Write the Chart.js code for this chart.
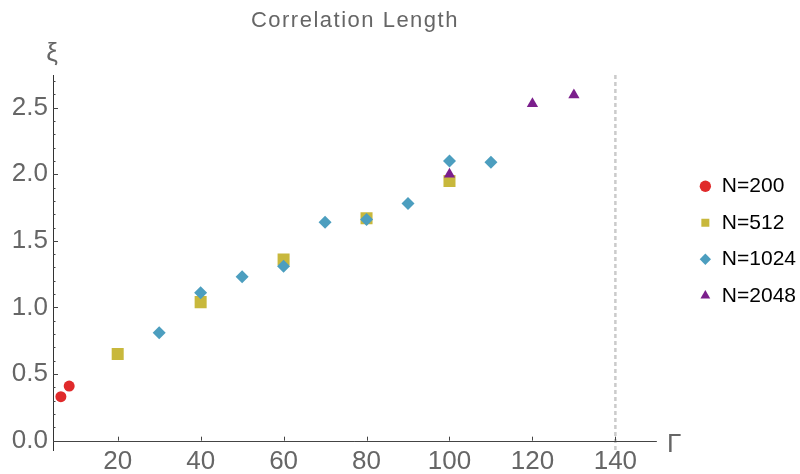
<!DOCTYPE html>
<html lang="en">
<head>
<meta charset="UTF-8">
<title>Correlation Length</title>
<script src="https://cdn.jsdelivr.net/npm/chart.js@4.4.0/dist/chart.umd.min.js"></script>
<style>
  html, body { margin: 0; padding: 0; background: #fff; }
  #wrap { width: 800px; height: 474px; }
</style>
</head>
<body>
<div id="wrap"><canvas id="canvas"></canvas></div>
<script>
// Data
const gamma200 = [6.3, 8.3];
const xi200 = [0.33, 0.41];
const gamma512 = [20, 40, 60, 80, 100];
const xi512 = [0.65, 1.04, 1.36, 1.67, 1.95];
const gamma1024 = [30, 40, 50, 60, 70, 80, 90, 100, 110];
const xi1024 = [0.81, 1.11, 1.23, 1.31, 1.64, 1.66, 1.78, 2.10, 2.09];
const gamma2048 = [100, 120, 130];
const xi2048 = [2.00, 2.53, 2.595];
const seriesNames = ['N=200', 'N=512', 'N=1024', 'N=2048'];
const xTicks = [20, 40, 60, 80, 100, 120, 140];
const yTicks = [0, 0.5, 1.0, 1.5, 2.0, 2.5];
const gammaMarker = 140;

const FONT = "'Liberation Sans', Arial, Helvetica, sans-serif";
const toPoints = (xs, ys) => xs.map((x, i) => ({ x: x, y: ys[i] }));

// Mathematica-style axes: x axis through y=0, inward tick marks, dashed marker, axis symbols
const mmaAxes = {
    id: 'mmaAxes',
    beforeDraw(chart) {
        // letter-spaced title
        const t = chart.titleBlock;
        if (t && !t._spaced) {
            const draw = t.draw.bind(t);
            t.draw = function (area) {
                chart.ctx.save();
                chart.ctx.letterSpacing = '1.5px';
                draw(area);
                chart.ctx.restore();
            };
            t._spaced = true;
        }
    },
    beforeDatasetsDraw(chart) {
        const { ctx, chartArea: a, scales: { x, y } } = chart;
        const y0 = y.getPixelForValue(0);
        ctx.save();
        // dashed vertical line
        const xm = x.getPixelForValue(gammaMarker);
        ctx.strokeStyle = '#cbcbcb';
        ctx.lineWidth = 2.5;
        ctx.setLineDash([4, 3]);
        ctx.beginPath();
        ctx.moveTo(xm, a.top);
        ctx.lineTo(xm, a.bottom);
        ctx.stroke();
        ctx.setLineDash([]);
        // x axis line
        ctx.strokeStyle = '#444';
        ctx.lineWidth = 1;
        ctx.beginPath();
        ctx.moveTo(a.left, Math.round(y0) + 0.5);
        ctx.lineTo(a.right, Math.round(y0) + 0.5);
        ctx.stroke();
        // x ticks
        ctx.beginPath();
        xTicks.forEach(v => {
            const px = Math.round(x.getPixelForValue(v)) + 0.5;
            ctx.moveTo(px, y0);
            ctx.lineTo(px, y0 - 4);
        });
        ctx.stroke();
        // y ticks, major and minor
        ctx.beginPath();
        for (let i = 0; i <= 27; i++) {
            const py = Math.round(y.getPixelForValue(i / 10)) + 0.5;
            const len = i % 5 === 0 ? 5 : 2.5;
            ctx.moveTo(a.left, py);
            ctx.lineTo(a.left + len, py);
        }
        ctx.stroke();
        ctx.restore();
    },
    afterDraw(chart) {
        const { ctx } = chart;
        ctx.save();
        ctx.fillStyle = '#666';
        ctx.font = '26px ' + FONT;
        ctx.textBaseline = 'alphabetic';
        ctx.textAlign = 'center';
        ctx.fillText('ξ', 52, 61);
        ctx.textAlign = 'left';
        ctx.fillText('Γ', 667, 452);
        ctx.restore();
    }
};

const ctx = document.getElementById('canvas').getContext('2d');
new Chart(ctx, {
    type: 'scatter',
    data: {
        datasets: [
            {
                label: seriesNames[0],
                data: toPoints(gamma200, xi200),
                pointStyle: 'circle',
                pointRadius: 5.5,
                backgroundColor: '#e02a2b',
                borderColor: '#e02a2b',
                borderWidth: 0,
                order: 3
            },
            {
                label: seriesNames[1],
                data: toPoints(gamma512, xi512),
                pointStyle: 'rect',
                pointRadius: 8.5,
                backgroundColor: '#c8b83c',
                borderColor: '#c8b83c',
                borderWidth: 0,
                order: 2
            },
            {
                label: seriesNames[2],
                data: toPoints(gamma1024, xi1024),
                pointStyle: 'rectRot',
                pointRadius: 6.5,
                backgroundColor: '#4c9ebf',
                borderColor: '#4c9ebf',
                borderWidth: 0,
                order: 1
            },
            {
                label: seriesNames[3],
                data: toPoints(gamma2048, xi2048),
                pointStyle: 'triangle',
                pointRadius: 6.5,
                backgroundColor: '#7b1f8c',
                borderColor: '#7b1f8c',
                borderWidth: 0,
                order: 0
            }
        ]
    },
    options: {
        responsive: true,
        maintainAspectRatio: false,
        animation: false,
        layout: { padding: { top: 8, right: -6, bottom: 0, left: 0 } },
        scales: {
            x: {
                type: 'linear',
                min: 4.4,
                max: 150,
                afterBuildTicks: s => { s.ticks = xTicks.map(v => ({ value: v })); },
                afterFit: s => { s.height = 24; },
                grid: { display: false, drawTicks: false },
                border: { display: false },
                ticks: {
                    color: '#666',
                    padding: -1,
                    font: { family: FONT, size: 26, lineHeight: 1 }
                }
            },
            y: {
                type: 'linear',
                min: -0.07,
                max: 2.745,
                afterBuildTicks: s => { s.ticks = yTicks.map(v => ({ value: v })); },
                afterFit: s => { s.width = 53; },
                grid: { display: false, drawTicks: false },
                border: { display: true, color: '#333', width: 1 },
                ticks: {
                    color: '#666',
                    padding: 5,
                    font: { family: FONT, size: 26 },
                    callback: v => v.toFixed(1)
                }
            },
            gapR: {
                type: 'linear',
                position: 'right',
                display: true,
                afterFit: s => { s.width = 27; },
                grid: { display: false, drawTicks: false },
                border: { display: false },
                ticks: { display: false }
            }
        },
        plugins: {
            title: {
                display: true,
                text: 'Correlation Length',
                fullSize: false,
                color: '#666',
                font: { family: FONT, size: 22, weight: 'normal' },
                padding: { top: 0, bottom: 40.6 }
            },
            legend: {
                display: true,
                position: 'right',
                align: 'center',
                labels: {
                    usePointStyle: true,
                    boxWidth: 12,
                    boxHeight: 8,
                    padding: 15.5,
                    color: '#000',
                    font: { family: FONT, size: 21 },
                    sort: (a, b) => a.datasetIndex - b.datasetIndex
                }
            },
            tooltip: { enabled: false }
        }
    },
    plugins: [mmaAxes]
});
</script>
</body>
</html>
